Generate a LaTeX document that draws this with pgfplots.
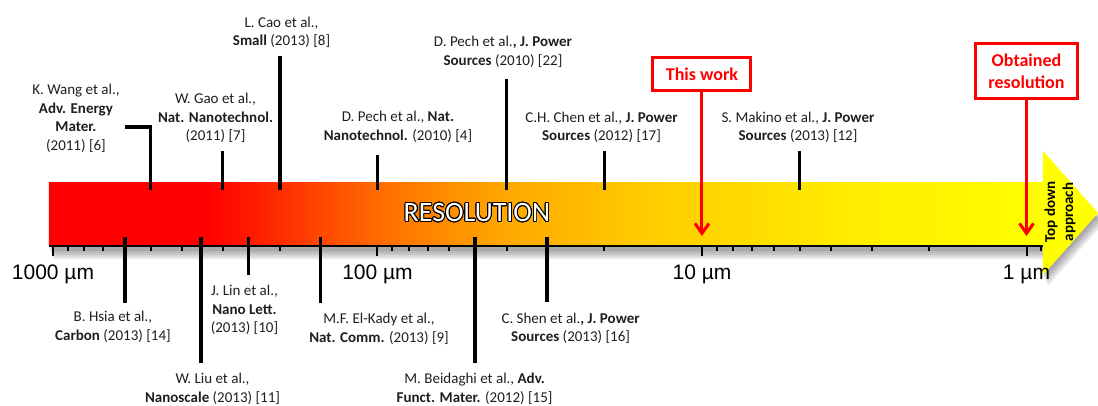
\documentclass[border=0pt]{standalone}
\usepackage{pgfplots}
\pgfplotsset{compat=1.18}
\usepackage{pgfplotstable}
\usepackage{fontspec}
\setmainfont{Carlito}
\newfontfamily\arialfont{Liberation Sans}
\usepackage{contour}
\contournumber{24}
\usetikzlibrary{arrows.meta}

\definecolor{anntext}{HTML}{1E1E1E}
\definecolor{gc0}{HTML}{FF0000}
\definecolor{gc1}{HTML}{FF6A00}
\definecolor{gc2}{HTML}{FFA500}
\definecolor{gc3}{HTML}{FFCC00}
\definecolor{gc4}{HTML}{FFEB00}
\definecolor{gc5}{HTML}{FFFF00}
\definecolor{redline}{HTML}{FF0000}

\pgfdeclarehorizontalshading{resgrad}{100bp}{color(0bp)=(gc0); color(25bp)=(gc0); color(33bp)=(gc0); color(41.5bp)=(gc1); color(47.5bp)=(gc2); color(55bp)=(gc3); color(65bp)=(gc4); color(75bp)=(gc5); color(100bp)=(gc5)}

% stems above the arrow: resolution (um), y
\pgfplotstableread{
x y
500 56
500 119
600 119
nan nan
300 56
300 95
nan nan
200 56
200 190
nan nan
100 56
100 91
nan nan
40 56
40 167
nan nan
20 56
20 95
nan nan
5 56
5 95
}\topstems

% stems below the arrow
\pgfplotstableread{
x y
600 9
600 -57
nan nan
350 9
350 -117
nan nan
250 9
250 -29
nan nan
150 9
150 -57
nan nan
50 9
50 -117
nan nan
30 9
30 -56
}\botstems

\newcommand{\arrowpath}{(axis cs:1028.8,64) -- (axis cs:0.8896,64) -- (axis cs:0.8896,95) -- (axis cs:0.602,33) -- (axis cs:0.8896,-29) -- (axis cs:0.8896,-2) -- (axis cs:1028.8,-2) -- cycle}

\tikzset{ann/.style={font=\fontsize{15}{18.5}\selectfont, text=anntext, align=center, inner sep=0pt}}

\begin{document}
\begin{tikzpicture}
\useasboundingbox (0pt,0pt) rectangle (1098pt,405pt);
\begin{axis}[
  at={(49pt,159pt)}, anchor=south west,
  scale only axis, width=994pt, height=246pt,
  xmode=log, x dir=reverse,
  xmin=0.8896, xmax=1028.8, ymin=0, ymax=246,
  axis x line*=bottom, axis y line=none,
  clip=false, axis on top,
  xtick={1000,100,10,1},
  xticklabels={1000 µm,100 µm,10 µm,1 µm},
  minor xtick={900,800,700,600,500,400,300,200,90,80,70,60,50,40,30,20,9,8,7,6,5,4,3,2,0.9},
  tick align=outside,
  major tick length=10pt, minor tick length=5pt,
  tick style={line width=2pt, black},
  minor tick style={line width=2pt, black},
  axis line style={line width=2.5pt, black},
  xticklabel style={font=\arialfont\fontsize{21}{24}\selectfont, text=black, anchor=north, inner sep=0pt, yshift=-9pt},
  unbounded coords=jump,
]
% soft shadow
\fill[black, opacity=0.08, xshift=1pt, yshift=-3pt] \arrowpath;
\fill[black, opacity=0.08, xshift=2pt, yshift=-5pt] \arrowpath;
\fill[black, opacity=0.08, xshift=3pt, yshift=-7pt] \arrowpath;
\fill[black, opacity=0.08, xshift=4pt, yshift=-9pt] \arrowpath;
\fill[black, opacity=0.08, xshift=5pt, yshift=-11pt] \arrowpath;
% arrow body and head
\shade[shading=resgrad] (axis cs:1028.8,1) rectangle (axis cs:0.8896,64);
\fill[gc5] (axis cs:0.8896,95) -- (axis cs:0.602,33) -- (axis cs:0.8896,-29) -- cycle;

% stems
\addplot[black, line width=3.5pt, line join=miter, mark=none] table[x=x,y=y] {\topstems};
\addplot[black, line width=3.5pt, mark=none] table[x=x,y=y] {\botstems};

% red arrows
\addplot[redline, line width=3pt, mark=none, -{Straight Barb[length=10pt,width=14pt,line width=3pt]}] coordinates {(10,154) (10,10)};
\addplot[redline, line width=3pt, mark=none, -{Straight Barb[length=10pt,width=14pt,line width=3pt]}] coordinates {(1,146) (1,10)};

% boxes
\node[draw=redline, line width=3pt, fill=white, minimum width=98pt, minimum height=33pt, inner sep=0pt, text=redline, font=\bfseries\fontsize{18}{21}\selectfont] at (axis cs:10,172) {This work};
\node[draw=redline, line width=3pt, fill=white, minimum width=102pt, minimum height=55pt, inner sep=0pt, text=redline, align=center, font=\bfseries\fontsize{18}{22}\selectfont] at (axis cs:1.0,175) {Obtained\\resolution};

% RESOLUTION
\node[font=\fontsize{28}{30}\selectfont, inner sep=0pt] at (axis cs:49.4,33) {\contourlength{0.9pt}\color{white}\contour{black}{RESOLUTION}};
% Top down approach
\node[rotate=90, align=center, inner sep=0pt, text=black, font=\bfseries\fontsize{15}{18}\selectfont] at (axis cs:0.788,34) {Top down\\approach};

% annotations above
\node[ann] at (axis cs:849.6,127.5) {K. Wang et al.,\\\textbf{Adv. Energy}\\\textbf{Mater.}\\(2011) [6]};
\node[ann] at (axis cs:315.6,128) {W. Gao et al.,\\\textbf{Nat. Nanotechnol.}\\(2011) [7]};
\node[ann] at (axis cs:197.6,213.5) {L. Cao et al.,\\\textbf{Small} (2013) [8]};
\node[ann] at (axis cs:86.5,119) {D. Pech et al., \textbf{Nat.}\\\textbf{Nanotechnol.} (2010) [4]};
\node[ann] at (axis cs:41.05,194) {D. Pech et al.\textbf{, J. Power}\\\textbf{Sources} (2010) [22]};
\node[ann] at (axis cs:20.4,118.5) {C.H. Chen et al., \textbf{J. Power}\\\textbf{Sources} (2012) [17]};
\node[ann] at (axis cs:5.06,118.5) {S. Makino et al., \textbf{J. Power}\\\textbf{Sources} (2013) [12]};
% annotations below
\node[ann] at (axis cs:653.4,-81) {B. Hsia et al.,\\\textbf{Carbon} (2013) [14]};
\node[ann] at (axis cs:322.4,-143) {W. Liu et al.,\\\textbf{Nanoscale} (2013) [11]};
\node[ann] at (axis cs:257.0,-64) {J. Lin et al.,\\\textbf{Nano Lett.}\\(2013) [10]};
\node[ann] at (axis cs:98.9,-83) {M.F. El-Kady et al.,\\\textbf{Nat. Comm.} (2013) [9]};
\node[ann] at (axis cs:50.2,-143) {M. Beidaghi et al., \textbf{Adv.}\\\textbf{Funct. Mater.} (2012) [15]};
\node[ann] at (axis cs:25.4,-82.5) {C. Shen et al.\textbf{, J. Power}\\\textbf{Sources} (2013) [16]};
\end{axis}
\end{tikzpicture}
\end{document}
